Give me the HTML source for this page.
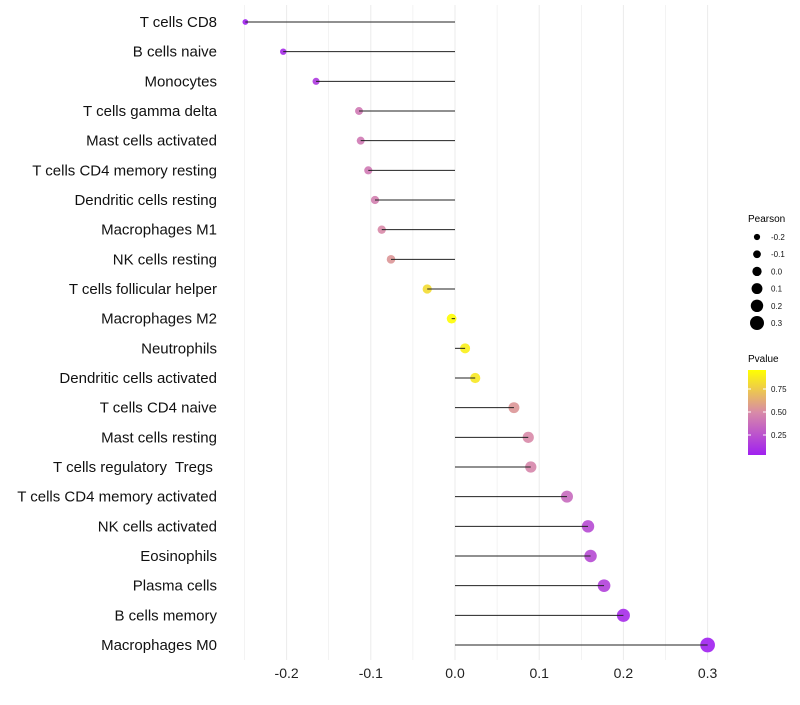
<!DOCTYPE html>
<html><head><meta charset="utf-8"><style>
body{margin:0;background:#fff;font-family:"Liberation Sans",sans-serif}
svg text{font-family:"Liberation Sans",sans-serif;white-space:pre}
</style></head><body>
<svg id="chart" width="800" height="700" xmlns="http://www.w3.org/2000/svg">
<defs><linearGradient id="pg" x1="0" y1="1" x2="0" y2="0">
<stop offset="0" stop-color="#a020f0"/><stop offset="0.5" stop-color="#d88aa8"/><stop offset="1" stop-color="#ffff00"/>
</linearGradient></defs>
<g id="grid"></g>
<g id="marks"></g>
<g id="ylabels"></g>
<g id="xlabels"></g>
<g id="legend">
<text x="748" y="222" font-size="10">Pearson</text>
<text x="748" y="362" font-size="10">Pvalue</text>
<rect x="748" y="370" width="18" height="85" fill="url(#pg)"/>
</g>
</svg>
<script>
const categories=["T cells CD8","B cells naive","Monocytes","T cells gamma delta","Mast cells activated","T cells CD4 memory resting","Dendritic cells resting","Macrophages M1","NK cells resting","T cells follicular helper","Macrophages M2","Neutrophils","Dendritic cells activated","T cells CD4 naive","Mast cells resting","T cells regulatory  Tregs ","T cells CD4 memory activated","NK cells activated","Eosinophils","Plasma cells","B cells memory","Macrophages M0"];
const pearson=[-0.249,-0.204,-0.165,-0.114,-0.112,-0.103,-0.095,-0.087,-0.076,-0.033,-0.004,0.012,0.024,0.070,0.087,0.090,0.133,0.158,0.161,0.177,0.200,0.300];
const pvalue=[0.0,0.05,0.12,0.42,0.42,0.42,0.45,0.5,0.55,0.85,0.99,0.93,0.9,0.55,0.5,0.48,0.35,0.2,0.2,0.15,0.05,0.0];
const xTicks=[-0.2,-0.1,0.0,0.1,0.2,0.3];
const xTickLabels=["-0.2","-0.1","0.0","0.1","0.2","0.3"];
const sizeLegend=[-0.2,-0.1,0.0,0.1,0.2,0.3];
const sizeLegendLabels=["-0.2","-0.1","0.0","0.1","0.2","0.3"];
const pTicks=[0.25,0.5,0.75];
const pTickLabels=["0.25","0.50","0.75"];
const NS="http://www.w3.org/2000/svg";
const x=v=>455+v*842;
const y=i=>22+i*(623/21);
const r=v=>Math.max(2,4.9+8.2*v);
function lerp(a,b,t){return a.map((c,i)=>Math.round(c+(b[i]-c)*t));}
function col(p){const A=[160,32,240],B=[216,138,168],C=[255,255,0];
 const c=p<0.5?lerp(A,B,p/0.5):lerp(B,C,(p-0.5)/0.5);return `rgb(${c.join(",")})`;}
function mk(t,a,parent){const e=document.createElementNS(NS,t);for(const k in a)e.setAttribute(k,a[k]);parent.appendChild(e);return e;}
const grid=document.getElementById('grid'),marks=document.getElementById('marks'),yl=document.getElementById('ylabels'),xl=document.getElementById('xlabels'),lg=document.getElementById('legend');
for(let v=-0.25;v<=0.301;v+=0.05){const e=mk('line',{x1:x(v),x2:x(v),y1:5,y2:660,stroke:'#ebebeb','stroke-width':Math.abs(Math.round(v*100))%10===0?1:0.6},grid);

}
categories.forEach((c,i)=>{
 const ci=mk('circle',{cx:x(pearson[i]),cy:y(i),r:r(pearson[i]),fill:col(pvalue[i]),'fill-opacity':0.9},marks);
 
 
 const l=mk('line',{x1:x(0),x2:x(pearson[i]),y1:y(i),y2:y(i),stroke:'#222','stroke-width':1},marks);
 
 
 const t=mk('text',{x:217,y:y(i)+5,'font-size':15,'text-anchor':'end',fill:'#111'},yl);t.textContent=c;
 
 
});
xTicks.forEach((v,i)=>{const t=mk('text',{x:x(v),y:678,'font-size':14,'text-anchor':'middle',fill:'#222'},xl);t.textContent=xTickLabels[i];
 
 });
sizeLegend.forEach((v,i)=>{const cy=237+i*17.2;
 const c=mk('circle',{cx:757,cy:cy,r:r(v)*0.95,fill:'#000'},lg);
 
 
 const t=mk('text',{x:771,y:cy+3,'font-size':8,fill:'#111'},lg);t.textContent=sizeLegendLabels[i];
 
 });
pTicks.forEach((p,i)=>{const py=458-p*92;
 const l=mk('line',{x1:748,x2:751,y1:py,y2:py,stroke:'#fff'},lg);
 
 
 const l2=mk('line',{x1:763,x2:766,y1:py,y2:py,stroke:'#fff'},lg);
 
 
 const t=mk('text',{x:771,y:py+3,'font-size':8,fill:'#111'},lg);t.textContent=pTickLabels[i];
 
 });
</script>
</body></html>
